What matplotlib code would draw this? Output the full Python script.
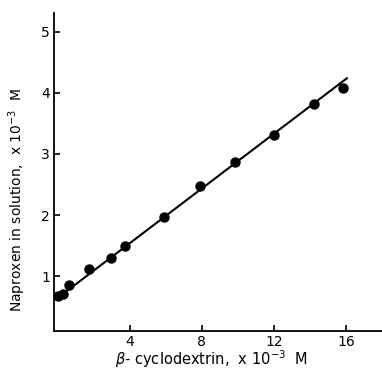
import matplotlib.pyplot as plt

# beta-cyclodextrin (x 10^-3 M) vs naproxen in solution (x 10^-3 M)
cd_conc = [0.0, 0.3, 0.65, 1.75, 2.95, 3.75, 5.9, 7.9, 9.85, 12.0, 14.2, 15.85]
naproxen = [0.68, 0.70, 0.86, 1.11, 1.30, 1.50, 1.97, 2.48, 2.87, 3.31, 3.82, 4.08]

# fitted line end points
fit_x = [0.0, 16.05]
fit_y = [0.64, 4.24]

x_ticks = [4, 8, 12, 16]
y_ticks = [1, 2, 3, 4, 5]

fig = plt.figure(figsize=(3.82, 3.73), dpi=100)
ax = fig.add_axes([54/382, 42/373, 328/382, 318/373])

ax.plot(fit_x, fit_y, 'k-', linewidth=1.5)
ax.plot(cd_conc, naproxen, 'ko', markersize=6.5)

ax.set_xlim(-0.2, 18.0)
ax.set_ylim(0.1, 5.31)
ax.set_xticks(x_ticks)
ax.set_yticks(y_ticks)
ax.tick_params(direction='in', length=4, width=1.2, pad=3, labelsize=10)

for side in ['top', 'right']:
    ax.spines[side].set_visible(False)
for side in ['left', 'bottom']:
    ax.spines[side].set_linewidth(1.3)

ax.set_xlabel(r'$\beta$- cyclodextrin,  x 10$^{-3}$  M', fontsize=10.5)
ax.set_ylabel(r'Naproxen in solution,  x 10$^{-3}$  M', fontsize=10)
ax.xaxis.set_label_coords(0.48, -0.055)
ax.yaxis.set_label_coords(-0.08, 0.41)

plt.savefig('out.png', dpi=100)
